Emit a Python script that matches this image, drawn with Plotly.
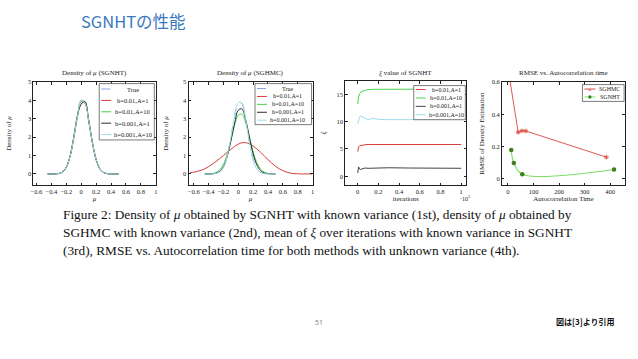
import plotly.graph_objects as go

W, H = 638, 359
def X(p): return p / W
def Y(p): return 1 - p / H

# ---------------- data ----------------
mu_grid = [-0.45, -0.4, -0.35, -0.3, -0.25, -0.2, -0.15, -0.1, -0.05, 0.0, 0.05,
           0.1, 0.15, 0.2, 0.25, 0.3, 0.35, 0.4, 0.45, 0.5]
true_density = [0, 0.0, 0.004, 0.024, 0.10, 0.36, 0.94, 1.95, 3.13, 3.92, 3.82,
                2.90, 1.72, 0.79, 0.28, 0.08, 0.017, 0.003, 0, 0]
# panel 1: SGNHT
sgnht_h01_A1 = [0, 0.001, 0.005, 0.026, 0.11, 0.37, 0.95, 1.97, 3.15, 3.96, 3.88,
                2.92, 1.70, 0.78, 0.28, 0.08, 0.018, 0.004, 0.001, 0]
sgnht_h01_A10 = [0, 0.001, 0.004, 0.022, 0.10, 0.35, 0.93, 1.93, 3.12, 4.02, 3.90,
                 2.88, 1.73, 0.80, 0.29, 0.08, 0.017, 0.003, 0.001, 0]
sgnht_h001_A1 = [0, 0, 0.005, 0.025, 0.105, 0.37, 0.96, 1.99, 3.18, 3.80, 3.95,
                 2.93, 1.71, 0.78, 0.27, 0.078, 0.016, 0.003, 0, 0]
sgnht_h001_A10 = [0, 0.001, 0.004, 0.023, 0.10, 0.36, 0.94, 1.96, 3.14, 3.98, 3.86,
                  2.91, 1.72, 0.79, 0.28, 0.08, 0.017, 0.003, 0.001, 0]
# panel 2: SGHMC
mu_grid_wide = [-0.65, -0.6, -0.55, -0.5, -0.45, -0.4, -0.35, -0.3, -0.25, -0.2, -0.15,
                -0.1, -0.05, 0.0, 0.05, 0.1, 0.15, 0.2, 0.25, 0.3, 0.35, 0.4, 0.45,
                0.5, 0.55, 0.6, 0.65, 0.7, 0.75, 0.8, 0.85, 0.9, 0.95, 1.0]
sghmc_h01_A1 = [0.06, 0.09, 0.14, 0.20, 0.28, 0.40, 0.53, 0.68, 0.84, 1.00, 1.17,
                1.34, 1.50, 1.62, 1.70, 1.70, 1.64, 1.52, 1.36, 1.18, 0.98, 0.78, 0.59,
                0.42, 0.28, 0.18, 0.10, 0.05, 0.02, 0.01, 0.0, 0.0, 0.0, 0.0]
sghmc_h01_A10 = [0.001, 0.005, 0.022, 0.075, 0.22, 0.53, 1.07, 1.83, 2.64, 3.20, 3.25,
                 2.78, 2.00, 1.21, 0.61, 0.26, 0.094, 0.028, 0.007, 0.002]
sghmc_h001_A1 = [0, 0.002, 0.009, 0.04, 0.14, 0.40, 0.94, 1.79, 2.76, 3.47, 3.54,
                 2.94, 1.99, 1.09, 0.49, 0.18, 0.05, 0.013, 0.002, 0]
sghmc_h001_A10 = [0, 0.0, 0.006, 0.03, 0.11, 0.38, 0.97, 1.98, 3.10, 3.88, 3.86,
                  2.95, 1.70, 0.76, 0.27, 0.08, 0.02, 0.004, 0.0, 0]
# panel 3: xi over iterations (x in units of 1e5)
xi_red_x = [0, 0.005, 0.01, 0.02, 0.04, 0.07, 0.1, 0.2, 0.5, 1.0]
xi_red_y = [4.5, 5.0, 5.4, 5.6, 5.7, 5.75, 5.8, 5.8, 5.8, 5.8]
xi_green_x = [0, 0.005, 0.01, 0.02, 0.03, 0.05, 0.07, 0.1, 0.15, 0.2, 0.3, 0.5, 0.7, 1.0]
xi_green_y = [13.2, 14.0, 14.6, 15.1, 15.4, 15.6, 15.75, 15.85, 15.9, 15.9, 15.95, 15.95, 15.95, 15.95]
xi_black_x = [0, 0.004, 0.008, 0.015, 0.025, 0.035, 0.05, 0.07, 0.1, 0.15, 0.2, 0.3, 0.5, 0.7, 1.0]
xi_black_y = [0.6, 1.2, 1.7, 1.5, 1.2, 1.3, 1.35, 1.5, 1.45, 1.5, 1.5, 1.55, 1.5, 1.5, 1.45]
xi_cyan_x = [0, 0.005, 0.01, 0.02, 0.03, 0.04, 0.06, 0.08, 0.1, 0.12, 0.14, 0.17, 0.2,
             0.3, 0.4, 0.5, 0.6, 0.7, 0.8, 0.9, 1.0]
xi_cyan_y = [9.6, 10.0, 10.5, 10.9, 11.0, 10.9, 10.6, 10.4, 10.3, 10.4, 10.6, 10.5, 10.4,
             10.35, 10.3, 10.35, 10.4, 10.4, 10.45, 10.5, 10.5]
# panel 4: RMSE vs autocorrelation time
sghmc_act = [3, 40, 55, 70, 385]
sghmc_rmse = [0.66, 0.288, 0.297, 0.296, 0.133]
sgnht_act = [13, 23, 56, 415]
sgnht_rmse = [0.177, 0.097, 0.027, 0.056]

mu_ticks = [-0.6, -0.4, -0.2, 0, 0.2, 0.4, 0.6, 0.8, 1]
mu_ticktext = ["\u22120.6", "\u22120.4", "\u22120.2", "0", "0.2", "0.4", "0.6", "0.8", "1"]
dens_ticks = [0, 1, 2, 3, 4, 5]
it_ticks = [0, 0.2, 0.4, 0.6, 0.8, 1]
it_ticktext = ["0", "0.2", "0.4", "0.6", "0.8", "1"]
xi_ticks = [0, 5, 10, 15]
act_ticks = [0, 100, 200, 300, 400]
rmse_ticks = [0, 0.2, 0.4, 0.6]
rmse_ticktext = ["0", "0.2", "0.4", "0.6"]

legend_labels = ["True", "h=0.01,A=1", "h=0.01,A=10", "h=0.001,A=1", "h=0.001,A=10"]
method_labels = ["SGHMC", "SGNHT"]

# ---------------- styles ----------------
SERIF = "Liberation Serif"
TRUE_C = "#86a3db"
RED = "#d83c3c"
GREEN = "#4cd24c"
BLACK = "#2b2b2b"
CYAN = "#9fdcee"
RED4 = "#d9473f"
GREEN4 = "#7ddf66"
GREEN4M = "#3f7f1f"
LW = 1.0

fig = go.Figure()

def dens(x, y, color, xa, ya, dash="solid", width=LW):
    fig.add_trace(go.Scatter(x=x, y=y, mode="lines", xaxis=xa, yaxis=ya,
                             line=dict(color=color, dash=dash, width=width, shape="spline"),
                             showlegend=False, hoverinfo="skip"))

# panel 1
dens(mu_grid, true_density, TRUE_C, "x", "y", dash="dash")
dens(mu_grid, sgnht_h01_A1, RED, "x", "y")
dens(mu_grid, sgnht_h01_A10, GREEN, "x", "y")
dens(mu_grid, sgnht_h001_A1, BLACK, "x", "y")
dens(mu_grid, sgnht_h001_A10, CYAN, "x", "y")
# panel 2
dens(mu_grid, true_density, TRUE_C, "x2", "y2", dash="dash")
dens(mu_grid_wide, sghmc_h01_A1, RED, "x2", "y2")
dens(mu_grid, sghmc_h01_A10, GREEN, "x2", "y2")
dens(mu_grid, sghmc_h001_A1, BLACK, "x2", "y2")
dens(mu_grid, sghmc_h001_A10, CYAN, "x2", "y2")
# panel 3
for xs, ys, c in [(xi_red_x, xi_red_y, RED), (xi_green_x, xi_green_y, GREEN),
                  (xi_black_x, xi_black_y, "#444444"), (xi_cyan_x, xi_cyan_y, CYAN)]:
    fig.add_trace(go.Scatter(x=xs, y=ys, mode="lines", xaxis="x3", yaxis="y3",
                             line=dict(color=c, width=LW), showlegend=False, hoverinfo="skip"))
# panel 4
fig.add_trace(go.Scatter(x=sghmc_act, y=sghmc_rmse, mode="lines+markers", xaxis="x4", yaxis="y4",
                         line=dict(color=RED4, width=0.9),
                         marker=dict(symbol="asterisk-open", size=4, color=RED4,
                                     line=dict(color=RED4, width=0.8)),
                         showlegend=False, hoverinfo="skip"))
fig.add_trace(go.Scatter(x=sgnht_act, y=sgnht_rmse, mode="lines+markers", xaxis="x4", yaxis="y4",
                         line=dict(color=GREEN4, width=1.1, shape="spline", smoothing=1),
                         marker=dict(symbol="circle", size=4.5, color=GREEN4M),
                         showlegend=False, hoverinfo="skip"))

# ---------------- axes ----------------
tickfont = dict(family=SERIF, size=6.5, color="#222")
titlefont = dict(family=SERIF, size=7, color="#222")
base = dict(showline=True, linecolor="#222", linewidth=0.8, mirror="ticks", ticks="inside",
            ticklen=2.5, tickwidth=0.6, tickcolor="#222", showgrid=False, zeroline=False,
            tickfont=tickfont, fixedrange=True)

def dom_x(a, b): return [X(a), X(b)]
def dom_y(top, bottom): return [Y(bottom), Y(top)]

layout_axes = dict(
    xaxis=dict(base, domain=dom_x(30.7, 154), range=[-0.64, 1.0], tickvals=mu_ticks,
               ticktext=mu_ticktext, anchor="y",
               title=dict(text="<i>μ</i>", font=titlefont, standoff=1)),
    yaxis=dict(base, domain=dom_y(79, 183), range=[-0.6, 5], tickvals=dens_ticks, anchor="x",
               title=dict(text="Density of <i>μ</i>", font=titlefont, standoff=15)),
    xaxis2=dict(base, domain=dom_x(187, 312), range=[-0.67, 1.0], tickvals=mu_ticks,
                ticktext=mu_ticktext, anchor="y2",
                title=dict(text="<i>μ</i>", font=titlefont, standoff=1)),
    yaxis2=dict(base, domain=dom_y(79, 183), range=[-0.6, 5], tickvals=dens_ticks, anchor="x2",
                title=dict(text="Density of <i>μ</i>", font=titlefont, standoff=13)),
    xaxis3=dict(base, domain=dom_x(345, 467), range=[-0.12, 1.05], tickvals=it_ticks,
                ticktext=it_ticktext, anchor="y3",
                title=dict(text="iterations", font=titlefont, standoff=1)),
    yaxis3=dict(base, domain=dom_y(78, 183), range=[-1.6, 17.4], tickvals=xi_ticks, anchor="x3",
                title=dict(text="<i>ξ</i>", font=titlefont, standoff=10)),
    xaxis4=dict(base, domain=dom_x(503, 626.7), range=[-23, 457], tickvals=act_ticks, anchor="y4",
                title=dict(text="Autocorrelation Time", font=titlefont, standoff=1)),
    yaxis4=dict(base, domain=dom_y(79, 183), range=[-0.04, 0.6], tickvals=rmse_ticks,
                ticktext=rmse_ticktext, anchor="x4",
                title=dict(text="RMSE of Density Estimation", font=titlefont, standoff=6)),
)

shapes = []
annotations = []

def ann(text, x, y, size, color="#222", family=SERIF, xanchor="center", **kw):
    annotations.append(dict(text=text, x=X(x), y=Y(y), xref="paper", yref="paper",
                            showarrow=False, xanchor=xanchor, yanchor="middle",
                            font=dict(family=family, size=size, color=color), **kw))

# subplot titles
ann("Density of <i>μ</i> (SGNHT)", 92, 70, 7)
ann("Density of <i>μ</i> (SGHMC)", 249.5, 70, 7)
ann("<i>ξ</i> value of SGNHT", 406, 70, 7)
ann("RMSE vs. Autocorrelation time", 565, 70, 7)
ann("·10<sup>5</sup>", 466, 196, 6)

# legends (drawn as layout decorations)
def legend_box(x0, x1, y0, y1, sx0, sx1, tx, ys, labels, colors, dashes, size):
    shapes.append(dict(type="rect", xref="paper", yref="paper", x0=X(x0), x1=X(x1),
                       y0=Y(y1), y1=Y(y0), line=dict(color="#222", width=0.6),
                       fillcolor="white", layer="above"))
    for yy, lab, c, d in zip(ys, labels, colors, dashes):
        shapes.append(dict(type="line", xref="paper", yref="paper", x0=X(sx0), x1=X(sx1),
                           y0=Y(yy), y1=Y(yy), line=dict(color=c, width=LW, dash=d),
                           layer="above"))
        ann(lab, tx, yy, size)

five_colors = [TRUE_C, RED, GREEN, BLACK, CYAN]
five_dash = ["dash", "solid", "solid", "solid", "solid"]
legend_box(97, 152.5, 80.5, 137.5, 99, 109, 131, [86, 97.5, 109, 120.5, 132],
           legend_labels, five_colors, five_dash, 6.5)
legend_box(254, 311, 80.5, 122, 256, 266, 287, [85.5, 93.5, 101.5, 109.5, 117.5],
           legend_labels, five_colors, five_dash, 6)
legend_box(414, 466, 82.5, 117, 416, 426, 447, [86.5, 95, 103.5, 112],
           legend_labels[1:], [RED, GREEN, "#444444", CYAN], ["solid"] * 4, 6)
legend_box(584, 626, 81.5, 98.5, 586, 597, 611.5, [86, 94],
           method_labels, [RED4, GREEN4], ["solid", "solid"], 6)
ann("*", 591.5, 87.5, 7, color=RED4)
shapes.append(dict(type="circle", xref="paper", yref="paper", x0=X(589.8), x1=X(593.2),
                   y0=Y(95.7), y1=Y(92.3), fillcolor=GREEN4M, line=dict(width=0), layer="above"))

# slide title / caption / footer
ann("SGNHTの性能", 77, 17, 16.5, color="#3a78bf", family="Noto Sans CJK JP", xanchor="left")
cap_lines = [
    "Figure 2: Density of <i>μ</i> obtained by SGNHT with known variance (1st), density of <i>μ</i> obtained by",
    "SGHMC with known variance (2nd), mean of <i>ξ</i> over iterations with known variance in SGNHT",
    "(3rd), RMSE vs. Autocorrelation time for both methods with unknown variance (4th).",
]
for i, line in enumerate(cap_lines):
    ann(line, 58, 213 + 18 * i, 13.3, color="#111", xanchor="left")
ann("51", 318, 322, 7, color="#888", family="Noto Sans")
ann("<b>図は[3]より引用</b>", 587, 321, 8, color="#111", family="Noto Sans CJK JP")

fig.update_layout(width=W, height=H, margin=dict(l=0, r=0, t=0, b=0),
                  paper_bgcolor="white", plot_bgcolor="white", showlegend=False,
                  shapes=shapes, annotations=annotations, **layout_axes)

fig.write_html("out.html", config={"displayModeBar": False},
               post_script="document.body.style.margin='0px';")
